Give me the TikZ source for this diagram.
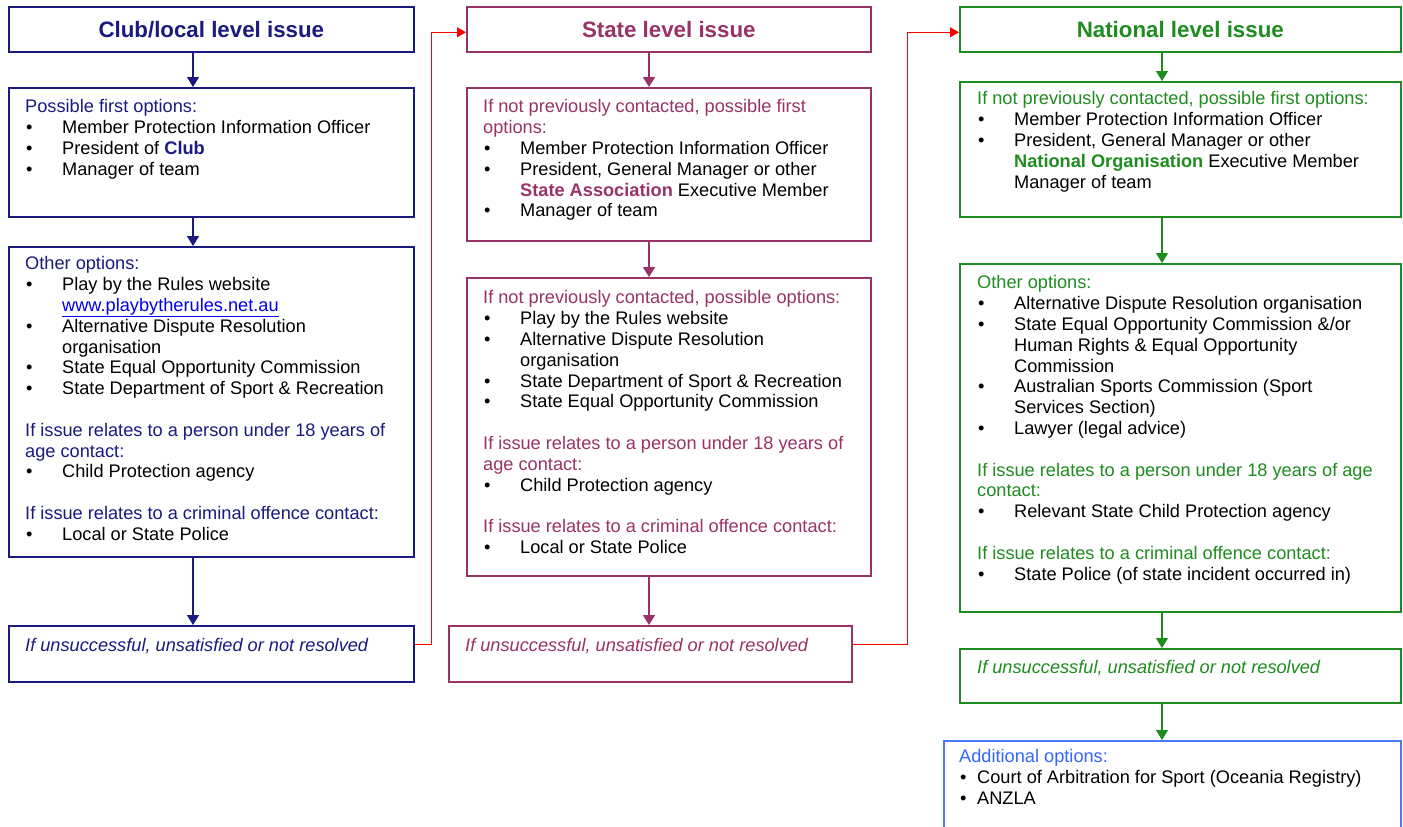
\documentclass[tikz,border=0pt]{standalone}
\usepackage{fontspec}
\setmainfont{Liberation Sans}
\usetikzlibrary{arrows.meta}
\definecolor{navy}{HTML}{1A1A80}
\definecolor{maroon}{HTML}{993366}
\definecolor{grn}{HTML}{1E8C1E}
\definecolor{bluebox}{HTML}{4D79FF}
\definecolor{bluetxt}{HTML}{3366FF}
\definecolor{linkblue}{HTML}{0000EE}
\newcommand\bodyfont{\fontsize{18.2}{20.8}\selectfont}
\newcommand\bul[1]{\makebox[37pt][l]{\hspace{1pt}\textbullet}#1}
\newcommand\bulb[1]{\makebox[18pt][l]{\hspace{1pt}\textbullet}#1}
\newcommand\cnt[1]{\makebox[37pt]{}#1}
\begin{document}
\begin{tikzpicture}[x=1pt,y=-1pt,
  box/.style={draw=#1, line width=1.6pt, inner sep=0pt, anchor=north west},
  ttl/.style={font=\fontsize{22.3}{26}\selectfont\bfseries, text=#1},
  txt/.style={anchor=north west, inner sep=0pt, align=left, font=\bodyfont, execute at begin node={\rule{0pt}{14pt}}},
  arr/.style={draw=#1, line width=1.6pt, -{Triangle[length=10pt,width=12pt]}},
  redarr/.style={draw=red, line width=1.2pt, -{Triangle[length=9pt,width=10pt]}}]
\useasboundingbox[fill=white] (0,0) rectangle (1403,827);
% column x positions of connectors
\coordinate (x1) at (193,0);
\coordinate (x2) at (649,0);
\coordinate (x3) at (1162,0);
% ---------- Column 1 ----------
\node[box=navy, minimum width=405pt, minimum height=45pt, ttl=navy] (c1t) at (8,6) {Club/local level issue};
\node[box=navy, minimum width=405pt, minimum height=129pt] (c1a) at (8,87) {};
\node[box=navy, minimum width=405pt, minimum height=310pt] (c1b) at (8,246) {};
\node[box=navy, minimum width=405pt, minimum height=56pt] (c1c) at (8,625) {};
\node[txt] (c1at) at (25,99.5) {\textcolor{navy}{Possible first options:}\\
\bul{Member Protection Information Officer}\\
\bul{President of \textcolor{navy}{\bfseries Club}}\\
\bul{Manager of team}};
\node[txt] (c1bt) at (25,256.5) {\textcolor{navy}{Other options:}\\
\bul{Play by the Rules website}\\
\cnt{\textcolor{linkblue}{\underline{www.playbytherules.net.au}}}\\
\bul{Alternative Dispute Resolution}\\
\cnt{organisation}\\
\bul{State Equal Opportunity Commission}\\
\bul{State Department of Sport \& Recreation}\\[20.8pt]
\textcolor{navy}{If issue relates to a person under 18 years of}\\
\textcolor{navy}{age contact:}\\
\bul{Child Protection agency}\\[20.8pt]
\textcolor{navy}{If issue relates to a criminal offence contact:}\\
\bul{Local or State Police}};
\node[txt] (c1ct) at (25,637.5) {\textcolor{navy}{\itshape If unsuccessful, unsatisfied or not resolved}};
% ---------- Column 2 ----------
\node[box=maroon, minimum width=404pt, minimum height=45pt, ttl=maroon] (c2t) at (466,6) {State level issue};
\node[box=maroon, minimum width=404pt, minimum height=153pt] (c2a) at (466,87) {};
\node[box=maroon, minimum width=404pt, minimum height=298pt] (c2b) at (466,277) {};
\node[box=maroon, minimum width=403pt, minimum height=56pt] (c2c) at (448,625) {};
\node[txt] (c2at) at (483,99.5) {\textcolor{maroon}{If not previously contacted, possible first}\\
\textcolor{maroon}{options:}\\
\bul{Member Protection Information Officer}\\
\bul{President, General Manager or other}\\
\cnt{\textcolor{maroon}{\bfseries State Association} Executive Member}\\
\bul{Manager of team}};
\node[txt] (c2bt) at (483,290.5) {\textcolor{maroon}{If not previously contacted, possible options:}\\
\bul{Play by the Rules website}\\
\bul{Alternative Dispute Resolution}\\
\cnt{organisation}\\
\bul{State Department of Sport \& Recreation}\\
\bul{State Equal Opportunity Commission}\\[20.8pt]
\textcolor{maroon}{If issue relates to a person under 18 years of}\\
\textcolor{maroon}{age contact:}\\
\bul{Child Protection agency}\\[20.8pt]
\textcolor{maroon}{If issue relates to a criminal offence contact:}\\
\bul{Local or State Police}};
\node[txt] (c2ct) at (465,637.5) {\textcolor{maroon}{\itshape If unsuccessful, unsatisfied or not resolved}};
% ---------- Column 3 ----------
\node[box=grn, minimum width=441pt, minimum height=45pt, ttl=grn] (c3t) at (959,6) {National level issue};
\node[box=grn, minimum width=441pt, minimum height=135pt] (c3a) at (959,81) {};
\node[box=grn, minimum width=441pt, minimum height=348pt] (c3b) at (959,263) {};
\node[box=grn, minimum width=441pt, minimum height=54pt] (c3c) at (959,648) {};
\node[box=bluebox, minimum width=457pt, minimum height=110pt] (c3d) at (943,740) {};
\node[txt] (c3at) at (977,91.5) {\textcolor{grn}{If not previously contacted, possible first options:}\\
\bul{Member Protection Information Officer}\\
\bul{President, General Manager or other}\\
\cnt{\textcolor{grn}{\bfseries National Organisation} Executive Member}\\
\cnt{Manager of team}};
\node[txt] (c3bt) at (977,275.5) {\textcolor{grn}{Other options:}\\
\bul{Alternative Dispute Resolution organisation}\\
\bul{State Equal Opportunity Commission \&/or}\\
\cnt{Human Rights \& Equal Opportunity}\\
\cnt{Commission}\\
\bul{Australian Sports Commission (Sport}\\
\cnt{Services Section)}\\
\bul{Lawyer (legal advice)}\\[20.8pt]
\textcolor{grn}{If issue relates to a person under 18 years of age}\\
\textcolor{grn}{contact:}\\
\bul{Relevant State Child Protection agency}\\[20.8pt]
\textcolor{grn}{If issue relates to a criminal offence contact:}\\
\bul{State Police (of state incident occurred in)}};
\node[txt] (c3ct) at (977,659.5) {\textcolor{grn}{\itshape If unsuccessful, unsatisfied or not resolved}};
\node[txt] (c3dt) at (959,749.5) {\textcolor{bluetxt}{Additional options:}\\
\bulb{Court of Arbitration for Sport (Oceania Registry)}\\
\bulb{ANZLA}};
% ---------- Connectors ----------
\draw[arr=navy] (c1t.south -| x1) -- (c1a.north -| x1);
\draw[arr=navy] (c1a.south -| x1) -- (c1b.north -| x1);
\draw[arr=navy] (c1b.south -| x1) -- (c1c.north -| x1);
\draw[arr=maroon] (c2t.south -| x2) -- (c2a.north -| x2);
\draw[arr=maroon] (c2a.south -| x2) -- (c2b.north -| x2);
\draw[arr=maroon] (c2b.south -| x2) -- (c2c.north -| x2);
\draw[arr=grn, line width=1.1pt] (c3t.south -| x3) -- (c3a.north -| x3);
\draw[arr=grn, line width=1.1pt] (c3a.south -| x3) -- (c3b.north -| x3);
\draw[arr=grn, line width=1.1pt] (c3b.south -| x3) -- (c3c.north -| x3);
\draw[arr=grn, line width=1.1pt] (c3c.south -| x3) -- (c3d.north -| x3);
\draw[redarr] ([yshift=9pt]c1c.east) -- ++(17,0) |- ([yshift=-3pt]c2t.west);
\draw[redarr] ([yshift=9pt]c2c.east) -- ++(55,0) |- ([yshift=-3pt]c3t.west);
\end{tikzpicture}
\end{document}
